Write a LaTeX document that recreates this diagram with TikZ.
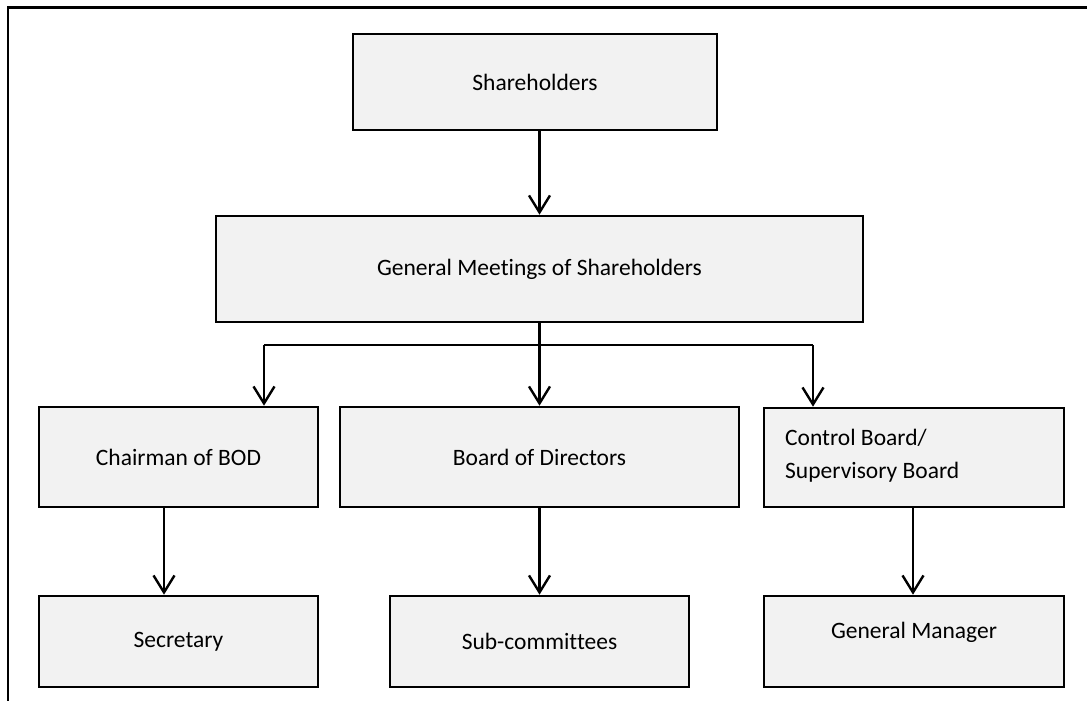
\documentclass[tikz,border=0pt]{standalone}
\usepackage{fontspec}
\setmainfont{Carlito}[Ligatures=NoCommon]
\usetikzlibrary{arrows.meta}
\definecolor{boxfill}{HTML}{F2F2F2}
\begin{document}
\begin{tikzpicture}[x=1pt,y=-1pt,
  orgbox/.style={draw=black, line width=2.6pt, fill=boxfill, rectangle,
    inner sep=0pt, font=\fontsize{23.5}{33}\selectfont},
  boxtext/.style={inner sep=0pt, font=\fontsize{23.5}{33}\selectfont},
  link/.style={draw=black, line width=2.4pt},
  arr/.style={link, -{Straight Barb[length=17pt,width=21pt,line width=2.4pt]}}]
\useasboundingbox (0,0) rectangle (1087,701);
% outer frame, open on the right and bottom
\draw[line width=2.6pt] (8,710) -- (8,7.5) -- (1095,7.5);

% boxes
\node[orgbox, minimum width=364pt, minimum height=96pt]  (sh)    at (535,82)    {Shareholders};
\node[orgbox, minimum width=647pt, minimum height=106pt] (gms)   at (539.5,269) {General Meetings of Shareholders};
\node[orgbox, minimum width=279pt, minimum height=100pt] (chair) at (178.5,457) {Chairman of BOD};
\node[orgbox, minimum width=399pt, minimum height=100pt] (bod)   at (539.5,457) {Board of Directors};
\node[orgbox, minimum width=300pt, minimum height=99pt]  (ctrl)  at (914,457.5) {};
\node[boxtext, anchor=west, align=left] (ctrltext) at (785,456) {Control Board/\\Supervisory Board};
\node[orgbox, minimum width=279pt, minimum height=91pt]  (sec)   at (178.5,641.5) {Secretary};
\node[orgbox, minimum width=299pt, minimum height=91pt]  (sub)   at (539.5,641.5) {Sub-committees};
\node[orgbox, minimum width=300pt, minimum height=91pt]  (gm)    at (914,641.5) {};
\node[boxtext] (gmtext) at ([yshift=9.5pt]gm.center) {General Manager};

% connectors
\draw[arr] (sh.south -| gms.north) -- (gms.north);
\coordinate (jl) at (264,345);
\coordinate (jr) at (813,345);
\draw[link] (jl) -- (jr);
\draw[arr] (gms.south) -- (bod.north);
\draw[arr] (jl) -- (jl |- chair.north);
\draw[arr] (jr) -- (jr |- ctrl.north);
\draw[arr] ([xshift=-14.5pt]chair.south) -- ([xshift=-14.5pt]sec.north);
\draw[arr] (bod.south) -- (sub.north);
\draw[arr] ([xshift=-1pt]ctrl.south) -- ([xshift=-1pt]gm.north);
\end{tikzpicture}
\end{document}
